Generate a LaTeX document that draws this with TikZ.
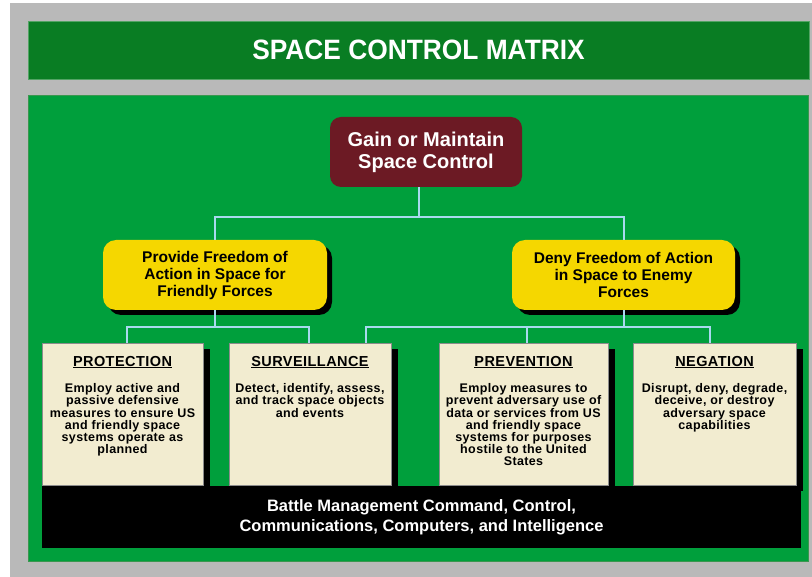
\documentclass[tikz,border=0pt]{standalone}
\usepackage{fontspec}
\setmainfont{Liberation Sans}
\newfontfamily\cardfont[LetterSpace=3]{Liberation Sans}
\usepackage{xcolor}
\usetikzlibrary{shadows,positioning,calc}

\definecolor{framegray}{HTML}{B9B9B9}
\definecolor{titlegreen}{HTML}{097D23}
\definecolor{panelgreen}{HTML}{009F3C}
\definecolor{goalred}{HTML}{6C1A24}
\definecolor{aimyellow}{HTML}{F5D700}
\definecolor{cardcream}{HTML}{F2ECD0}
\definecolor{linkblue}{HTML}{A9D9EF}

\begin{document}
\begin{tikzpicture}[x=1pt, y=-1pt,
    every node/.style={inner sep=0pt},
    goal/.style={fill=goalred, rounded corners=11pt, text=white, align=center,
        minimum width=192pt, minimum height=70pt,
        font=\bfseries\fontsize{20}{22}\selectfont},
    aim/.style={fill=aimyellow, rounded corners=13pt, align=center,
        minimum width=224pt, minimum height=70pt,
        general shadow={fill=black, shadow xshift=5pt, shadow yshift=-5pt},
        font=\bfseries\fontsize{15.5}{17}\selectfont},
    card/.style={fill=cardcream, draw=black!45, line width=0.6pt,
        minimum height=142pt,
        general shadow={fill=black, shadow xshift=7pt, shadow yshift=-6pt}},
    cardhead/.style={font=\cardfont\bfseries\fontsize{14.5}{16}\selectfont},
    cardtext/.style={align=center, font=\cardfont\bfseries\fontsize{12.5}{12.2}\selectfont},
    link/.style={draw=linkblue, line width=2pt}]

\useasboundingbox (0,0) rectangle (812,577);

% Frame and panels
\node[fill=framegray, minimum width=802pt, minimum height=574pt] (frame) at (411,290) {};
\node[fill=titlegreen, draw=titlegreen!70!white, line width=0.6pt,
    minimum width=781pt, minimum height=58pt, text=white,
    font=\bfseries\fontsize{28}{30}\selectfont] (title) at (418.5,50)
    {\scalebox{0.94}[1]{SPACE CONTROL MATRIX}};
\node[fill=panelgreen, draw=titlegreen!80!white, line width=0.6pt,
    minimum width=780pt, minimum height=466pt] (panel) at (418,328) {};

% Goal and aims
\node[goal] (goal) at (426,152) {Gain or Maintain\\Space Control};
\node[aim] (friend) at (215,275) {Provide Freedom of\\Action in Space for\\Friendly Forces};
\node[aim, minimum width=223pt] (deny) at (623.5,275) {Deny Freedom of Action\\in Space to Enemy\\Forces};

% Mission cards
\node[card, minimum width=161pt] (prot) at (122.5,414) {};
\node[card, minimum width=162pt] (surv) at (310,414) {};
\node[card, minimum width=169pt] (prev) at (523.5,414) {};
\node[card, minimum width=163pt] (neg) at (714.5,414) {};

\node[cardhead, below=13pt of prot.north] (prothead) {\underline{PROTECTION}};
\node[cardhead, below=13pt of surv.north] (survhead) {\underline{SURVEILLANCE}};
\node[cardhead, below=13pt of prev.north] (prevhead) {\underline{PREVENTION}};
\node[cardhead, below=13pt of neg.north] (neghead) {\underline{NEGATION}};

\node[cardtext, below=15pt of prothead] (prottext)
    {Employ active and\\passive defensive\\measures to ensure US\\and friendly space\\systems operate as\\planned};
\node[cardtext, below=15pt of survhead] (survtext)
    {Detect, identify, assess,\\and track space objects\\and events};
\node[cardtext, below=15pt of prevhead] (prevtext)
    {Employ measures to\\prevent adversary use of\\data or services from US\\and friendly space\\systems for purposes\\hostile to the United\\States};
\node[cardtext, below=15pt of neghead] (negtext)
    {Disrupt, deny, degrade,\\deceive, or destroy\\adversary space\\capabilities};

% C4I bar
\node[fill=black, text=white, align=center, minimum width=759pt, minimum height=62pt,
    font=\bfseries\fontsize{16.5}{20}\selectfont] (c4i) at (421.5,517)
    {Battle Management Command, Control,\\Communications, Computers, and Intelligence};

% Connections
\path ([xshift=-7pt]goal.south) ++(0,30) coordinate (goalfork);
\path (friend.south) ++(0,17) coordinate (friendfork);
\path (deny.south) ++(0,17) coordinate (denyfork);

\draw[link] ([xshift=-7pt]goal.south) -- (goalfork);
\draw[link] (friend.north) |- (goalfork) -| (deny.north);

\draw[link] (friend.south) -- (friendfork);
\draw[link] ([xshift=4.5pt]prot.north) |- (friendfork) -| ([xshift=-1pt]surv.north);

\draw[link] (deny.south) -- (denyfork);
\draw[link] ([xshift=56pt]surv.north) |- (denyfork);
\foreach \card/\dx in {prev/3.5, neg/-4.5}
    \draw[link] (denyfork) -| ([xshift=\dx pt]\card.north);

\end{tikzpicture}
\end{document}
